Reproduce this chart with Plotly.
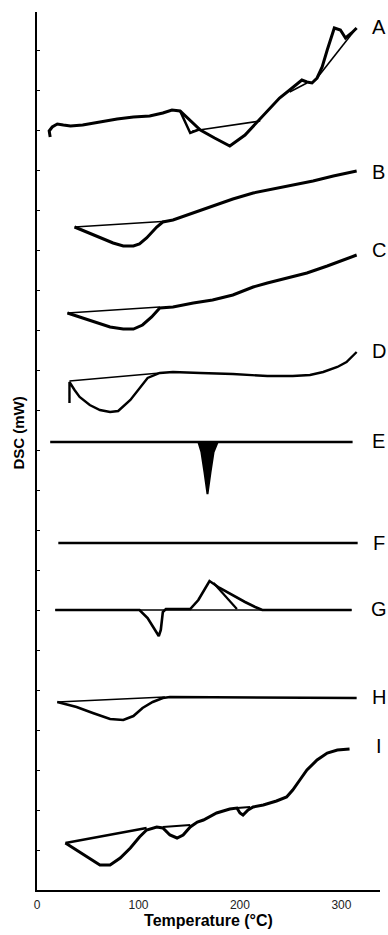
import plotly.graph_objects as go

# ---- Data (Temperature in °C, DSC signal in arbitrary stacked mW units) ----
A_T = [13, 12, 15, 20, 26, 33, 45, 62, 79, 95, 111, 124, 133, 141, 161, 175, 190, 205, 217, 225, 230, 239, 249, 256, 261, 266, 271, 276, 281, 286, 291, 293, 299, 304, 310, 315]
A_Y = [75.3, 75.9, 76.3, 76.6, 76.5, 76.4, 76.5, 76.8, 77.1, 77.3, 77.4, 77.7, 78.0, 77.9, 76.0, 75.2, 74.4, 75.5, 76.8, 77.7, 78.3, 79.2, 80.0, 80.6, 81.0, 80.8, 80.7, 81.2, 82.3, 84.0, 85.5, 86.2, 86.0, 85.2, 85.7, 86.2]
A_TRI_T = [141, 151, 161]
A_TRI_Y = [77.9, 75.7, 76.1]
A_BASE1_T = [153, 220]
A_BASE1_Y = [75.9, 76.9]
A_BASE2_T = [249, 266]
A_BASE2_Y = [79.8, 80.7]
A_BASE3_T = [276, 314]
A_BASE3_Y = [81.2, 86.1]

B_T = [37, 49, 62, 75, 85, 95, 101, 108, 118, 124, 134, 148, 161, 177, 193, 213, 232, 252, 272, 292, 315]
B_Y = [66.3, 65.8, 65.2, 64.7, 64.4, 64.4, 64.6, 65.2, 66.3, 66.8, 67.0, 67.5, 68.0, 68.6, 69.1, 69.7, 70.1, 70.5, 70.9, 71.4, 71.9]
B_BASE_T = [37, 131]
B_BASE_Y = [66.3, 66.9]

C_T = [30, 42, 55, 72, 85, 95, 104, 113, 121, 134, 154, 173, 193, 213, 227, 246, 266, 286, 301, 315]
C_Y = [57.7, 57.3, 56.8, 56.3, 56.1, 56.1, 56.5, 57.3, 58.2, 58.3, 58.7, 59.0, 59.5, 60.3, 60.7, 61.2, 61.7, 62.4, 63.0, 63.5]
C_BASE_T = [30, 121]
C_BASE_Y = [57.7, 58.3]

D_T = [32, 32, 37, 42, 52, 62, 72, 80, 92, 101, 109, 121, 134, 161, 193, 227, 252, 269, 282, 296, 305, 315]
D_Y = [48.7, 50.8, 50.0, 49.3, 48.5, 48.0, 47.8, 47.9, 49.0, 50.2, 51.2, 51.7, 51.8, 51.7, 51.6, 51.4, 51.4, 51.5, 51.8, 52.3, 52.8, 53.8]
D_BASE_T = [32, 121]
D_BASE_Y = [50.9, 51.7]

E_T = [13, 158, 311]
E_Y = [44.8, 44.8, 44.8]
E_PEAK_T = [159, 162, 165, 168, 171, 174, 178]
E_PEAK_Y = [44.8, 43.8, 41.8, 39.6, 41.8, 43.8, 44.8]

F_T = [21, 316]
F_Y = [34.7, 34.7]

G_T = [18, 101, 109, 116, 120, 122, 124, 127, 151, 159, 165, 170, 180, 192, 205, 215, 222, 310]
G_Y = [28.0, 28.0, 27.2, 26.0, 25.4, 26.0, 27.8, 28.1, 28.1, 29.0, 30.0, 30.9, 30.2, 29.5, 28.8, 28.3, 28.0, 28.0]
G_SEC_T = [174, 197]
G_SEC_Y = [30.7, 28.1]
G_BASE_T = [18, 310]
G_BASE_Y = [28.0, 28.0]

H_T = [20, 39, 55, 72, 85, 95, 104, 114, 124, 131, 315]
H_Y = [18.8, 18.3, 17.7, 17.1, 17.0, 17.4, 18.2, 18.8, 19.2, 19.3, 19.2]
H_BASE_T = [20, 126]
H_BASE_Y = [18.8, 19.3]

I_T = [28, 39, 52, 62, 72, 82, 92, 101, 108, 118, 124, 131, 138, 144, 151, 158, 164, 177, 190, 197, 200, 203, 208, 213, 223, 236, 246, 252, 259, 266, 276, 286, 296, 308]
I_Y = [4.7, 4.0, 3.2, 2.5, 2.5, 3.2, 4.2, 5.3, 6.0, 6.3, 6.2, 5.5, 5.2, 5.5, 6.3, 6.8, 7.0, 7.7, 8.1, 8.2, 7.7, 7.5, 8.0, 8.3, 8.5, 8.9, 9.3, 10.0, 11.0, 12.0, 13.0, 13.7, 14.0, 14.1]
I_BASE1_T = [28, 108]
I_BASE1_Y = [4.7, 6.2]
I_BASE2_T = [124, 151]
I_BASE2_Y = [6.3, 6.5]
I_BASE3_T = [197, 210]
I_BASE3_Y = [8.2, 8.3]

LABELS = ["A", "B", "C", "D", "E", "F", "G", "H", "I"]
LABEL_Y = [86.3, 71.8, 64.0, 53.9, 44.9, 34.7, 28.1, 19.3, 14.4]

X_TICKS = [0, 100, 200, 300]

FONT = "Liberation Sans, Arial, sans-serif"

# ---- Figure ----
fig = go.Figure()

def add_line(x, y, width, fill=None):
    fig.add_trace(go.Scatter(x=x, y=y, mode="lines",
                             line=dict(color="black", width=width, shape="linear"),
                             fill=fill, fillcolor="black",
                             hoverinfo="skip", showlegend=False))

MAIN_W = 3
BASE_W = 1.6

add_line(A_T, A_Y, MAIN_W)
add_line(A_TRI_T, A_TRI_Y, 2.5)
add_line(A_BASE1_T, A_BASE1_Y, BASE_W)
add_line(A_BASE2_T, A_BASE2_Y, BASE_W)
add_line(A_BASE3_T, A_BASE3_Y, BASE_W)

add_line(B_T, B_Y, MAIN_W)
add_line(B_BASE_T, B_BASE_Y, BASE_W)

add_line(C_T, C_Y, MAIN_W)
add_line(C_BASE_T, C_BASE_Y, BASE_W)

add_line(D_T, D_Y, 2.4)
add_line(D_BASE_T, D_BASE_Y, BASE_W)

add_line(E_T, E_Y, 2.4)
add_line(E_PEAK_T, E_PEAK_Y, 2.0, fill="toself")

add_line(F_T, F_Y, 2.6)

add_line(G_BASE_T, G_BASE_Y, 1.4)
add_line(G_T, G_Y, 2.6)
add_line(G_SEC_T, G_SEC_Y, 2.2)

add_line(H_T, H_Y, 2.6)
add_line(H_BASE_T, H_BASE_Y, BASE_W)

add_line(I_T, I_Y, MAIN_W)
add_line(I_BASE1_T, I_BASE1_Y, 2.4)
add_line(I_BASE2_T, I_BASE2_Y, 1.8)
add_line(I_BASE3_T, I_BASE3_Y, 1.8)

for lab, ly in zip(LABELS, LABEL_Y):
    fig.add_annotation(x=337, y=ly, xref="x", yref="y", text=lab, showarrow=False,
                       xanchor="center", yanchor="middle",
                       font=dict(family=FONT, size=20, color="black"))

fig.add_annotation(x=-0.055, y=0.52, xref="paper", yref="paper", text="<b>DSC (mW)</b>",
                   textangle=-90, showarrow=False, xanchor="center", yanchor="middle",
                   font=dict(family=FONT, size=15, color="black"))

fig.update_layout(
    width=388, height=935,
    margin=dict(l=37, r=8, t=12, b=45),
    paper_bgcolor="white", plot_bgcolor="white",
    xaxis=dict(range=[0, 338], tickvals=X_TICKS, ticktext=[str(v) for v in X_TICKS],
               showgrid=False, zeroline=False, showline=True, linecolor="black", linewidth=2,
               ticks="", ticklabelstandoff=3, tickfont=dict(family=FONT, size=12, color="#222"),
               title=dict(text="<b>Temperature (°C)</b>", standoff=3,
                          font=dict(family=FONT, size=16, color="black"))),
    yaxis=dict(range=[0, 87.8], showgrid=False, zeroline=False, showline=True, linecolor="black",
               linewidth=2, ticks="inside", ticklen=3, tickwidth=1, tickcolor="black", dtick=4,
               showticklabels=False),
)

fig.write_html("out.html")
